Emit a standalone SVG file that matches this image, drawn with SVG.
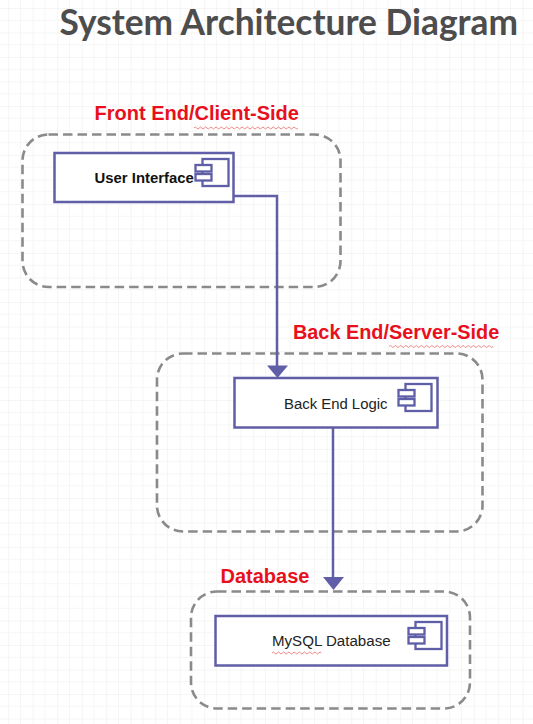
<svg xmlns="http://www.w3.org/2000/svg" width="533" height="724" viewBox="0 0 533 724">
<style>
.group{fill:none;stroke:#8a8a8a;stroke-width:2.6;stroke-dasharray:9.500 5}
.box{fill:#fff;stroke:#5f5ea6;stroke-width:2.500}
.icon{fill:#fff;stroke:#5f5ea6;stroke-width:2.300}
.conn{fill:none;stroke:#5f5ea6;stroke-width:2.500}
.head{fill:#5f5ea6}
.hdr{font:bold 20px "Liberation Sans",Arial,sans-serif;fill:#e8101c}
.lbl{font:14.900px "Liberation Sans",Arial,sans-serif;fill:#222}
.sq{fill:none;stroke:#e77;stroke-width:.9}
</style>
<defs>
<pattern id="grid" width="24.5" height="24.5" patternUnits="userSpaceOnUse" x="8.2" y="8">
<path d="M0 0V24.5M0 0H24.5" fill="none" stroke="#ececec" stroke-width="1"/>
<path d="M12.25 0V24.5M0 12.25H24.5" fill="none" stroke="#f6f6f6" stroke-width="1"/>
</pattern>
<g id="cmp">
<rect class="icon" x="7" y="0" width="26" height="27"/>
<rect class="icon" x="0" y="6" width="16" height="6.500"/>
<rect class="icon" x="0" y="15" width="16" height="6.500"/>
</g>
</defs>
<rect width="533" height="724" fill="#fff"/>
<rect width="533" height="724" fill="url(#grid)"/>
<text id="title" x="59.500" y="35" style="font:bold 35.300px Lato,sans-serif;fill:#4d4d4d">System Architecture Diagram</text>
<g id="front-end">
<rect class="group" x="22.500" y="134.500" width="318" height="152.500" rx="26"/>
<text class="hdr" x="94.500" y="120">Front End/Client-Side</text>
<path class="sq" d="M194 128q1.300-2 2.600 0t2.600 0 2.600 0 2.600 0 2.600 0 2.600 0 2.600 0 2.600 0 2.600 0 2.600 0 2.600 0 2.600 0 2.600 0 2.600 0 2.600 0 2.600 0 2.600 0 2.600 0 2.600 0 2.600 0 2.600 0 2.600 0 2.600 0 2.600 0 2.600 0 2.600 0 2.600 0 2.600 0 2.600 0 2.600 0 2.600 0 2.600 0 2.600 0 2.600 0 2.600 0 2.600 0 2.600 0 2.600 0 2.600 0 2.600 0"/>
</g>
<g id="back-end">
<rect class="group" x="157" y="353.500" width="325.500" height="178" rx="26"/>
<text class="hdr" x="293" y="339" style="font-size:19.850px">Back End/Server-Side</text>
<path class="sq" d="M389 346.500q1.300-2 2.600 0t2.600 0 2.600 0 2.600 0 2.600 0 2.600 0 2.600 0 2.600 0 2.600 0 2.600 0 2.600 0 2.600 0 2.600 0 2.600 0 2.600 0 2.600 0 2.600 0 2.600 0 2.600 0 2.600 0 2.600 0 2.600 0 2.600 0 2.600 0 2.600 0 2.600 0 2.600 0 2.600 0 2.600 0 2.600 0 2.600 0 2.600 0 2.600 0 2.600 0 2.600 0 2.600 0 2.600 0 2.600 0 2.600 0 2.600 0"/>
</g>
<g id="database">
<rect class="group" x="191" y="591.500" width="279" height="117" rx="26"/>
<text class="hdr" x="220.500" y="583">Database</text>
</g>
<g id="user-interface">
<rect class="box" x="54.500" y="153" width="179" height="49"/>
<use href="#cmp" x="195.500" y="159"/>
<text x="94.500" y="183" style="font:bold 14.900px 'Liberation Sans',Arial,sans-serif;fill:#111">User Interface</text>
</g>
<g id="back-end-logic">
<rect class="box" x="234.500" y="378" width="203" height="49.500"/>
<use href="#cmp" x="398.500" y="384"/>
<text class="lbl" x="284" y="408.500">Back End Logic</text>
</g>
<g id="mysql-database">
<rect class="box" x="215.500" y="616" width="231.500" height="49.500"/>
<use href="#cmp" x="408.500" y="622"/>
<text class="lbl" x="272" y="646" style="font-size:15.100px">MySQL Database</text>
<path class="sq" d="M272 653q1.300-2 2.600 0t2.600 0 2.600 0 2.600 0 2.600 0 2.600 0 2.600 0 2.600 0 2.600 0 2.600 0 2.600 0 2.600 0 2.600 0 2.600 0 2.600 0 2.600 0 2.600 0 2.600 0 2.600 0"/>
</g>
<g id="connectors">
<path class="conn" d="M233.500 196H277V366"/>
<path class="head" d="M267 365.500H288L277.500 378Z"/>
<path class="conn" d="M333 427.500V578"/>
<path class="head" d="M323 577H344L333.500 590Z"/>
</g>
</svg>
